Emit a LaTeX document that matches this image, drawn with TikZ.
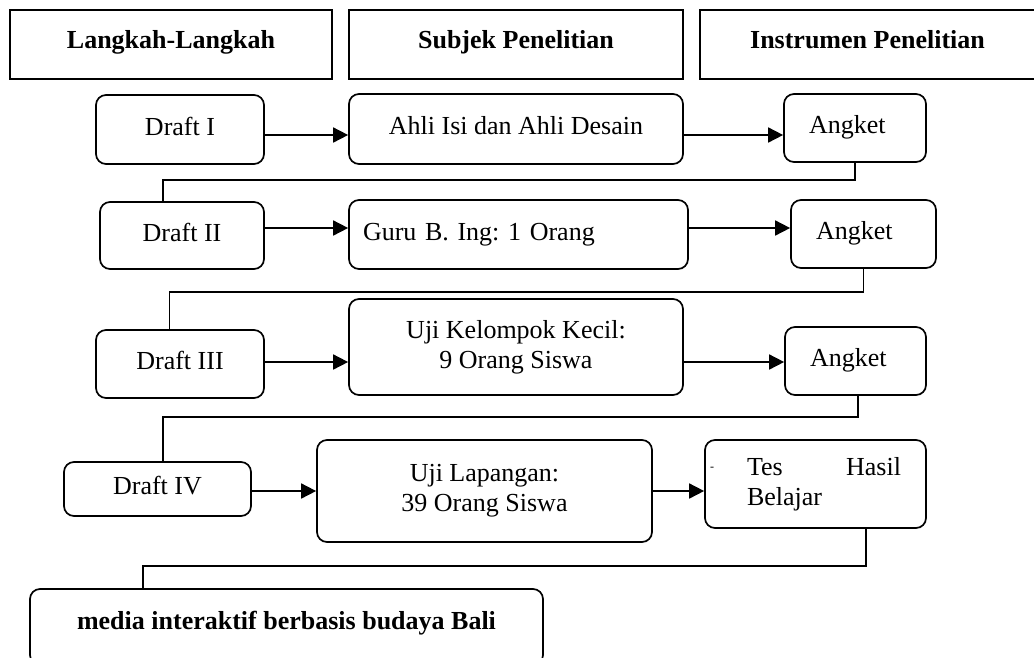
\documentclass[tikz,border=0pt]{standalone}
\usepackage{fontspec}
\setmainfont{Liberation Serif}
\usetikzlibrary{arrows.meta}
\frenchspacing

\begin{document}
\begin{tikzpicture}[x=1pt,y=-1pt,line width=1.7pt]
    \tikzstyle{every node}=[font=\fontsize{26}{30}\selectfont]
    \tikzstyle{head}=[draw,line width=1.5pt,minimum width=334pt,inner sep=0pt,text height=38pt,text depth=31pt,font=\fontsize{26}{30}\selectfont\bfseries]
    \tikzstyle{box}=[draw,rounded corners=10pt,inner sep=0pt]
    \tikzstyle{stage}=[box,align=center,text height=18pt,text depth=7pt]
    \tikzstyle{instrument}=[stage,align=left,inner xsep=25pt]
    \tikzstyle{flow}=[-{Triangle[length=15pt,width=15pt]}]

    \useasboundingbox (0,0) rectangle (1034,657);
    \clip (0,0) rectangle (1034,657);

    % Column headers
    \node[head,minimum width=322pt] (H-1) at (171,44.5) {Langkah-Langkah};
    \node[head] (H-2) at (516,44.5) {Subjek Penelitian};
    \node[head,minimum width=335pt] (H-3) at (867.5,44.5) {Instrumen Penelitian};

    % Draft stages
    \foreach \name/\x/\y/\w/\h/\lbl in {1/180/129.5/168/69/I, 2/182/235.5/164/67/II, 3/180/364/168/68/III, 4/157.5/489/187/54/IV}
        \node[stage,minimum width=\w pt,minimum height=\h pt] (D-\name) at (\x,\y) {Draft \lbl};

    % Subjects
    \node[stage,minimum width=334pt,minimum height=70pt] (S-1) at (516,129) {Ahli Isi dan Ahli Desain};
    \node[stage,align=left,text width=311pt,inner xsep=14pt,minimum height=69pt] (S-2) at (518.5,234.5) {Guru B. Ing: 1 Orang};
    \node[box,align=center,minimum width=334pt,minimum height=96pt] (S-3) at (516,347) {Uji Kelompok Kecil:\\9 Orang Siswa};
    \node[box,align=center,minimum width=335pt,minimum height=102pt] (S-4) at (484.5,491) {Uji Lapangan:\\39 Orang Siswa};

    % Instruments
    \node[instrument,text width=92pt,minimum height=68pt] (I-1) at (855,128) {Angket};
    \node[instrument,text width=95pt,minimum height=68pt] (I-2) at (863.5,234) {Angket};
    \node[instrument,text width=91pt,minimum height=68pt] (I-3) at (855.5,361) {Angket};
    \node[box,minimum width=221pt,minimum height=88pt] (I-4) at (815.5,484)
        {\hspace{5pt}\raisebox{5pt}{\fontsize{12}{12}\selectfont -}\hspace{33pt}\parbox[t]{154pt}{Tes\hfill Hasil\\Belajar}\hspace{25pt}\null};

    % Result
    \node[box,minimum width=513pt,text height=40pt,text depth=36pt,font=\fontsize{26}{30}\selectfont\bfseries] (F) at (286.5,627) {media interaktif berbasis budaya Bali};

    % Row levels of the arrows
    \coordinate (R-1) at (0,135);
    \coordinate (R-2) at (0,228);
    \coordinate (R-3) at (0,362);
    \coordinate (R-4) at (0,491);
    \foreach \r in {1,...,4} {
        \draw[flow] (D-\r.east |- R-\r) -- (S-\r.west |- R-\r);
        \draw[flow] (S-\r.east |- R-\r) -- (I-\r.west |- R-\r);
    }

    % Links down to the next stage
    \coordinate (K-1) at (163,180);
    \coordinate (K-2) at (169.5,292);
    \coordinate (K-3) at (163,417);
    \coordinate (K-4) at (143,566);
    \draw (I-1.south) |- (K-1) -- (K-1 |- D-2.north);
    \draw (I-2.south) |- (K-2) -- (K-2 |- D-3.north);
    \draw ([xshift=2.5pt]I-3.south) |- (K-3) -- (K-3 |- D-4.north);
    \draw ([xshift=50.5pt]I-4.south) |- (K-4) -- (K-4 |- F.north);
\end{tikzpicture}
\end{document}
